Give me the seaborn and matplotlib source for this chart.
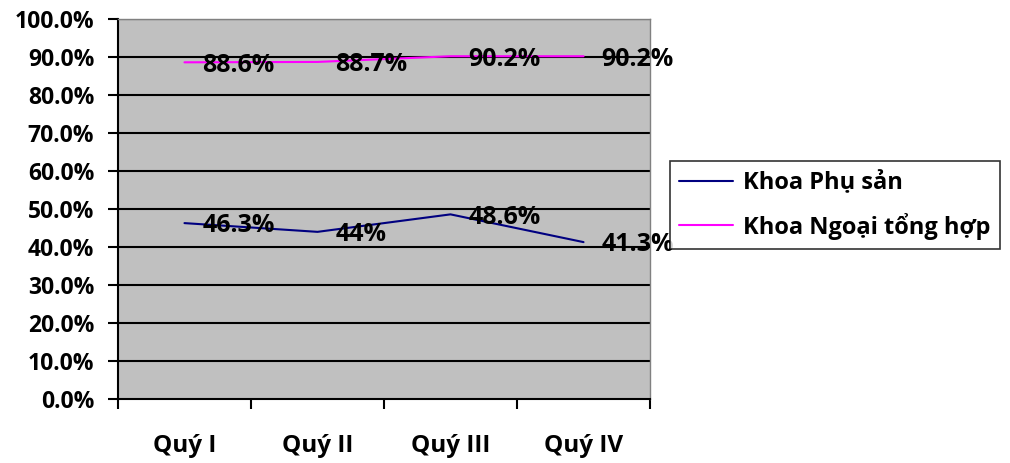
import numpy   as np
import pandas  as pd
import seaborn as sns
from matplotlib import pyplot as plt

quarters   = ['Quý I', 'Quý II', 'Quý III', 'Quý IV']
series     = ['Khoa Phụ sản', 'Khoa Ngoại tổng hợp']
phu_san    = [46.3, 44.0, 48.6, 41.3]
ngoai_th   = [88.6, 88.7, 90.2, 90.2]
label_text = [['46.3%', '44%', '48.6%', '41.3%'],
              ['88.6%', '88.7%', '90.2%', '90.2%']]

sns.set_style('white')
plt.rcParams['font.family'] = ['Open Sans', 'DejaVu Sans']
plt.rcParams.update({ 'font.weight'  : 'bold',
                      'text.color'   : 'black',
                      'xtick.color'  : 'black',
                      'ytick.color'  : 'black' })

data = pd.DataFrame({ 'quy'   : list(range(len(quarters))) * 2,
                      'value' : phu_san + ngoai_th,
                      'khoa'  : [series[0]] * 4 + [series[1]] * 4 })

fig = plt.figure(figsize=(10.1, 4.63), dpi=100)
ax  = fig.add_axes([0.1168, 0.138, 0.5268, 0.821])
ax.set_facecolor('#C0C0C0')

for v in np.arange(10, 101, 10):
    ax.axhline(v, color='black', lw=1.5, zorder=1)

sns.lineplot( data=data, x='quy', y='value', hue='khoa',
              palette=['#000080', '#FF00FF'], lw=1.5, ax=ax,
              legend=True, zorder=3 )

vals = [phu_san, ngoai_th]
for s in range(2):
    for i, v in enumerate(vals[s]):
        ax.annotate( label_text[s][i], (i, v), xytext=(13, -2),
                     textcoords='offset points', ha='left', va='center',
                     fontsize=18, fontweight='bold', color='black',
                     zorder=4, annotation_clip=False )

ax.set_xlim(-0.5, 3.5)
ax.set_ylim(0, 100)
ax.set_yticks(np.arange(0, 101, 10))
ax.set_yticklabels(['%.1f%%' % v for v in np.arange(0, 101, 10)],
                   fontsize=16.5, fontweight='bold')
ax.set_xticks(range(4))
ax.set_xticklabels(quarters, fontsize=17.5, fontweight='bold')
ax.set_xticks(np.arange(-0.5, 4, 1), minor=True)
ax.tick_params(axis='x', which='major', bottom=True, length=0, pad=25)
ax.tick_params(axis='x', which='minor', bottom=True, length=7, width=1.5,
               direction='out', color='black')
ax.tick_params(axis='y', left=True, length=7, width=1.5, direction='out',
               pad=10, color='black')
ax.set_xlabel('')
ax.set_ylabel('')

for side in ['left', 'bottom']:
    ax.spines[side].set_color('black')
    ax.spines[side].set_linewidth(1.5)
for side in ['top', 'right']:
    ax.spines[side].set_color('#808080')
    ax.spines[side].set_linewidth(1.0)

leg = ax.legend( loc='center left', bbox_to_anchor=(1.037, 0.51),
                 borderaxespad=0, frameon=True, fancybox=False,
                 edgecolor='black', prop={'size': 17, 'weight': 'bold'},
                 handlelength=2.3, handletextpad=0.4, borderpad=0.4,
                 labelspacing=0.75 )
leg.get_frame().set_linewidth(1.2)

fig.savefig('out.png', dpi=100)
